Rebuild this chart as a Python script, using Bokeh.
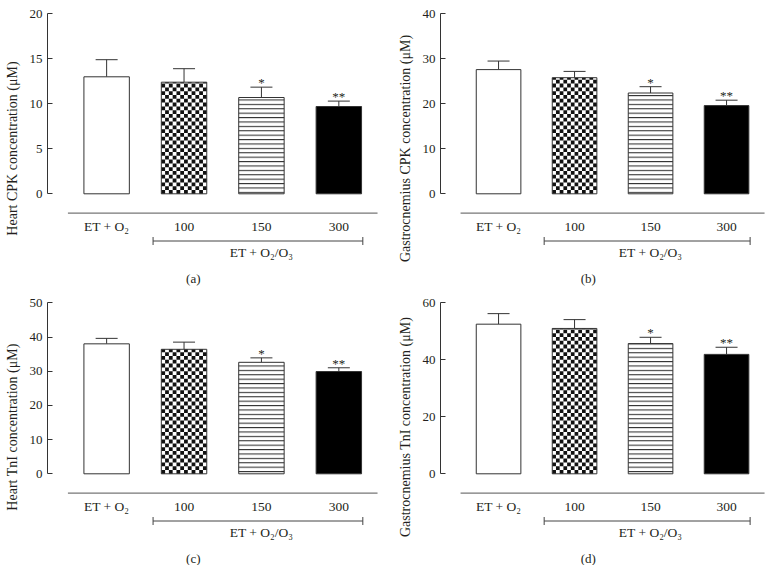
import math
from bokeh.plotting import figure
from bokeh.models import Range1d, FixedTicker, Whisker, TeeHead, ColumnDataSource
from bokeh.layouts import row, column
from bokeh.core.properties import value
from bokeh.embed import file_html
from bokeh.resources import INLINE

# ---------------- data ----------------
categories = ["ET + O\u2082", "100", "150", "300"]
group_label = "ET + O\u2082/O\u2083"
significance = ["", "", "*", "**"]

heart_cpk = [13.0, 12.4, 10.7, 9.7]
heart_cpk_err = [1.9, 1.5, 1.15, 0.6]

gastro_cpk = [27.6, 25.8, 22.4, 19.6]
gastro_cpk_err = [1.9, 1.4, 1.4, 1.2]

heart_tni = [38.0, 36.4, 32.6, 29.9]
heart_tni_err = [1.6, 2.1, 1.3, 1.1]

gastro_tni = [52.5, 51.0, 45.7, 41.9]
gastro_tni_err = [3.7, 3.1, 2.2, 2.5]

ticks_a = [0, 5, 10, 15, 20]
ticks_b = [0, 10, 20, 30, 40]
ticks_c = [0, 10, 20, 30, 40, 50]
ticks_d = [0, 20, 40, 60]

titles = ["Heart CPK concentration (\u03bcM)",
          "Gastrocnemius CPK concentration (\u03bcM)",
          "Heart TnI concentration (\u03bcM)",
          "Gastrocnemius TnI concentration (\u03bcM)"]
panel_labels = ["(a)", "(b)", "(c)", "(d)"]

# ---------------- style ----------------
FONT = "Liberation Serif"
INK = "#231f20"
LINE = "#333333"
PX_PER_CAT = 77.4
BAR_W = 0.587
ZERO_PX = 185.3  # from frame top


def make_panel(vals, errs, ticks, title, plabel, width, height, left_border,
               top_border, axis_px, plabel_x):
    ymax = ticks[-1]
    s = axis_px / ymax  # pixels per data unit
    frame_w = width - left_border
    frame_h = height - top_border
    x0 = 0.236
    x1 = x0 + frame_w / PX_PER_CAT
    p = figure(width=width, height=height,
               x_range=Range1d(x0, x1),
               y_range=Range1d(-(frame_h - ZERO_PX) / s, ZERO_PX / s),
               x_axis_location=None, y_axis_location="left",
               output_backend="svg", toolbar_location=None,
               min_border_left=left_border, min_border_right=0,
               min_border_top=top_border, min_border_bottom=0)
    p.outline_line_color = None
    p.xgrid.visible = False
    p.ygrid.visible = False

    ax = p.yaxis[0]
    ax.ticker = FixedTicker(ticks=ticks)
    ax.bounds = (0, ymax)
    ax.major_tick_in = 5
    ax.major_tick_out = 0
    ax.minor_tick_line_color = None
    ax.axis_line_color = LINE
    ax.major_tick_line_color = LINE
    ax.major_label_text_font = FONT
    ax.major_label_text_font_size = "13px"
    ax.major_label_text_color = INK
    ax.major_label_standoff = 5
    ax.axis_label = title
    ax.axis_label_text_font = FONT
    ax.axis_label_text_font_style = "normal"
    ax.axis_label_text_font_size = "14px"
    ax.axis_label_text_color = INK
    ax.axis_label_standoff = 7

    xs = [1, 2, 3, 4]

    # bar 1: open
    p.vbar(x=[xs[0]], top=[vals[0]], bottom=0, width=BAR_W,
           fill_color="white", line_color=LINE, line_width=1)
    # bar 2: checkerboard
    p.vbar(x=[xs[1]], top=[vals[1]], bottom=0, width=BAR_W,
           fill_color="white", line_color=None)
    sq_px = 3.8
    ncols = 12
    sq_w = BAR_W / ncols
    sq_h = sq_px / s
    nrows = int(math.ceil(vals[1] / sq_h))
    left = xs[1] - BAR_W / 2
    L, R, B, T = [], [], [], []
    for r in range(nrows):
        b = r * sq_h
        t = min(b + sq_h, vals[1])
        for c in range(ncols):
            if (r + c) % 2 == 0:
                L.append(left + c * sq_w)
                R.append(left + (c + 1) * sq_w)
                B.append(b)
                T.append(t)
    p.quad(left=L, right=R, bottom=B, top=T, fill_color="#111111", line_color=None)
    p.vbar(x=[xs[1]], top=[vals[1]], bottom=0, width=BAR_W,
           fill_color=None, line_color=LINE, line_width=1)
    # bar 3: horizontal lines
    p.vbar(x=[xs[2]], top=[vals[2]], bottom=0, width=BAR_W,
           fill_color="white", line_color=LINE, line_width=1,
           hatch_pattern="horizontal_line", hatch_scale=4.4,
           hatch_color="#222222", hatch_weight=1)
    # bar 4: solid
    p.vbar(x=[xs[3]], top=[vals[3]], bottom=0, width=BAR_W,
           fill_color="#000000", line_color=LINE, line_width=1)

    hi = [v + e for v, e in zip(vals, errs)]
    src = ColumnDataSource(dict(x=xs, lo=vals, hi=hi))
    w = Whisker(source=src, base="x", lower="lo", upper="hi", dimension="height",
                line_color=LINE, line_width=1,
                upper_head=TeeHead(size=22, line_color=LINE, line_width=1),
                lower_head=None)
    p.add_layout(w)

    # significance marks
    p.text(x=xs, y=[h + 4.5 / s for h in hi], text=significance,
           text_align="center", text_baseline="middle",
           text_font=value(FONT), text_font_size="13px", text_color=INK)

    # category axis line and labels
    yl = -19.3 / s
    p.segment(x0=[0.5], y0=[yl], x1=[4.5], y1=[yl], line_color="#555555", line_width=1)
    p.text(x=xs, y=[-33.0 / s] * 4, text=categories,
           text_align="center", text_baseline="middle",
           text_font=value(FONT), text_font_size="13.5px", text_color=INK)

    # bracket
    yb = -47.2 / s
    bl, br = 1.6, 4.31
    p.segment(x0=[bl, bl, br], y0=[yb, yb - 4 / s, yb - 4 / s],
              x1=[br, bl, br], y1=[yb, yb + 4 / s, yb + 4 / s],
              line_color="#444444", line_width=1)
    p.text(x=[3.0], y=[-58.5 / s], text=[group_label],
           text_align="center", text_baseline="middle",
           text_font=value(FONT), text_font_size="13.5px", text_color=INK)

    # panel label
    p.text(x=[plabel_x], y=[-85.0 / s], text=[plabel],
           text_align="center", text_baseline="middle",
           text_font=value(FONT), text_font_size="13px", text_color=INK)
    return p


pa = make_panel(heart_cpk, heart_cpk_err, ticks_a, titles[0], panel_labels[0],
                394, 288, 47, 8, 180, 2.12)
pb = make_panel(gastro_cpk, gastro_cpk_err, ticks_b, titles[1], panel_labels[1],
                371, 288, 40, 8, 180, 2.18)
pc = make_panel(heart_tni, heart_tni_err, ticks_c, titles[2], panel_labels[2],
                394, 277, 47, 0, 171, 2.12)
pd = make_panel(gastro_tni, gastro_tni_err, ticks_d, titles[3], panel_labels[3],
                371, 277, 40, 0, 171, 2.18)

layout = column(row(pa, pb), row(pc, pd))
open("out.html", "w").write(file_html(layout, INLINE))
